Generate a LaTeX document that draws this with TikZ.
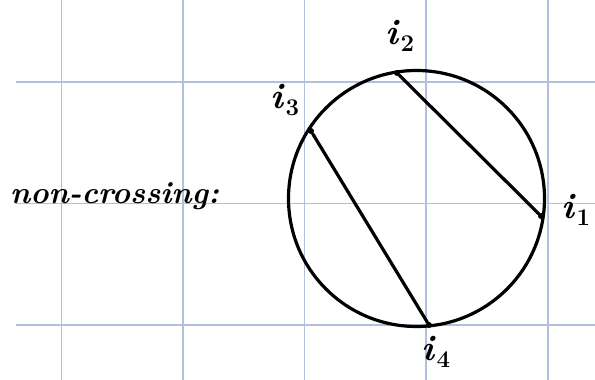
\documentclass[tikz,border=0pt]{standalone}
\usepackage{fontspec}
\usetikzlibrary{positioning}
\definecolor{gridblue}{RGB}{176,192,222}
\newcommand{\idx}[1]{\textit{i}\raisebox{-0.4ex}{\fontsize{24}{26}\selectfont #1}}

\begin{document}
\begin{tikzpicture}[
    x=1pt, y=-1pt,
    grid/.style={
        draw=gridblue,
        line width=1.3pt
    },
    pen/.style={
        draw=black,
        line width=3.2pt,
        line cap=round
    },
    dot/.style={
        circle,
        fill=black,
        inner sep=0pt,
        minimum size=6pt
    },
    lbl/.style={
        font=\fontsize{36}{40}\selectfont\bfseries
    }
]

    \useasboundingbox (0,0) rectangle (595,380);

    % Squared paper
    \foreach \gx in {61.5,183,304.5,426,548} {
        \draw[grid] (\gx,0) -- (\gx,380);
    }
    \foreach \gy in {82,203.5,325} {
        \draw[grid] (16,\gy) -- (595,\gy);
    }

    % Title
    \node[anchor=base west, inner sep=0pt, font=\fontsize{31}{36}\selectfont\bfseries\itshape] (title) at (10,203) {non-crossing:};

    % Circle
    \coordinate (centre) at (416.5,198.5);
    \draw[pen] (centre) circle[radius=128];

    % Points on the circle
    \node[dot] (p1) at (541,216) {};
    \node[dot] (p2) at (397,73) {};
    \node[dot] (p3) at (311,131) {};
    \node[dot] (p4) at (429,325) {};

    % Labels
    \node[lbl] (l1) at (576,210) {\idx{1}};
    \node[lbl] (l2) at (400,36) {\idx{2}};
    \node[lbl] (l3) at (285,100) {\idx{3}};
    \node[lbl] (l4) at (436,352) {\idx{4}};

    % Chords
    \draw[pen] (p2) -- (p1);
    \draw[pen] (p3) -- (p4);

\end{tikzpicture}
\end{document}
